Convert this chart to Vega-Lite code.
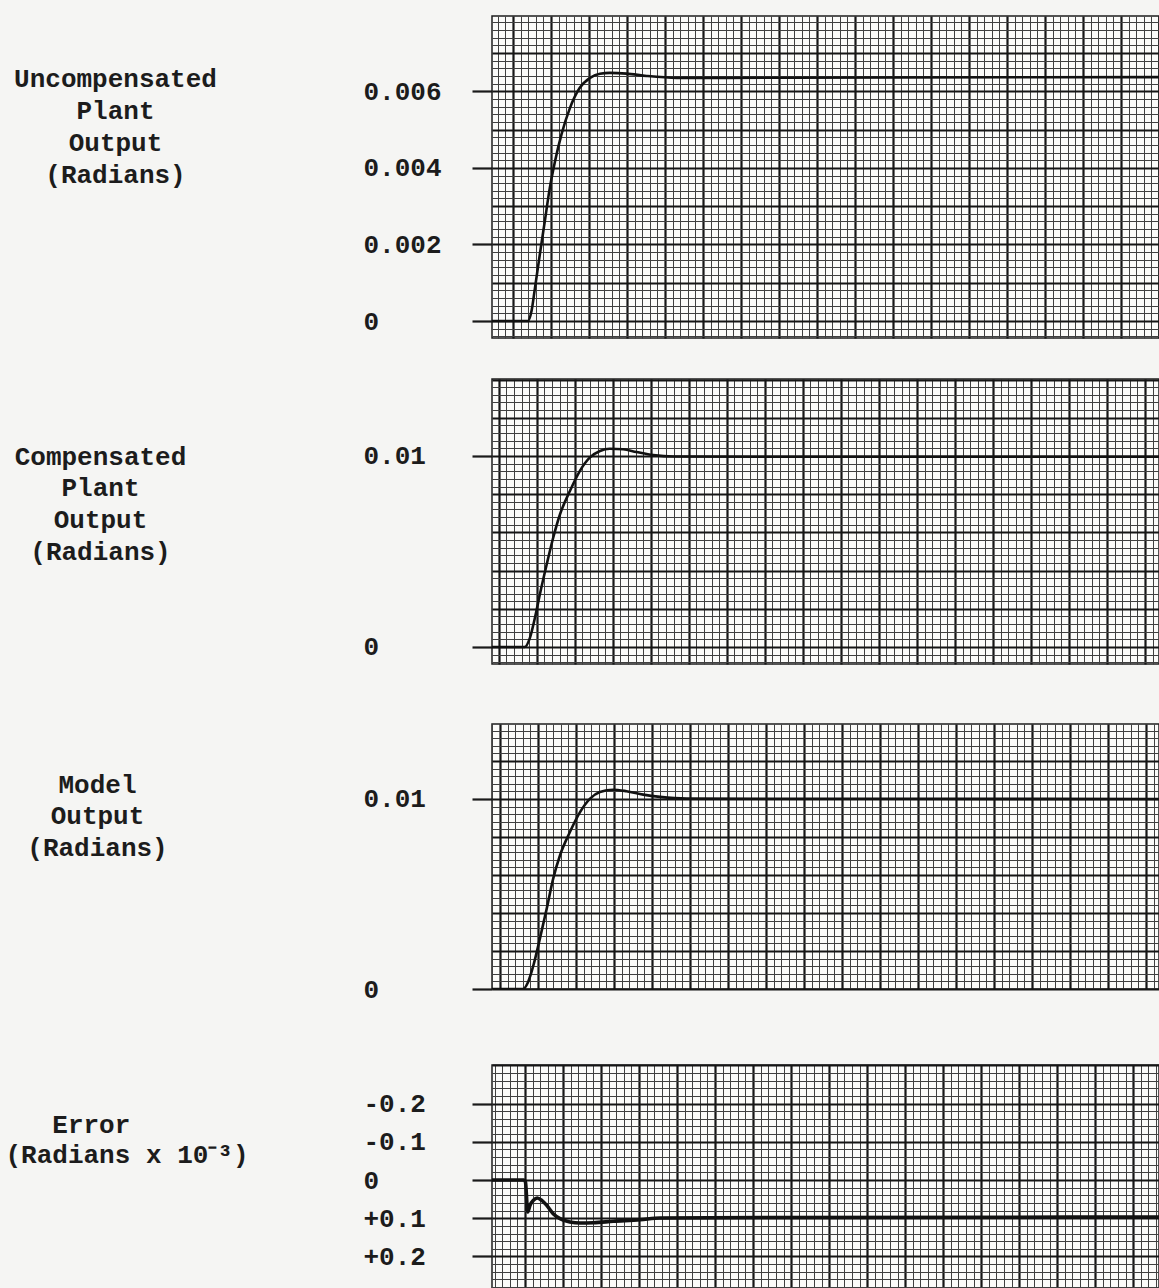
{
  "$schema": "https://vega.github.io/schema/vega-lite/v6.json",
  "background": "#f5f5f3",
  "padding": {"left": 4, "top": 15, "right": 0, "bottom": 0},
  "autosize": {"type": "pad"},
  "config": {
    "view": {"stroke": "#1e1e1e", "strokeWidth": 1.5, "fill": "#fbfbf9"},
    "font": "Liberation Mono",
    "axis": {
      "labelFont": "Liberation Mono", "labelFontWeight": "bold", "labelColor": "#1c1c1c",
      "titleFont": "Liberation Mono", "titleFontSize": 26, "titleFontWeight": "bold", "titleColor": "#1c1c1c",
      "gridColor": "#404040", "gridOpacity": 1
    }
  },
  "datasets": {
    "uncompensated": [
      {"t": -0.55, "v": 0}, {"t": 0.395, "v": 0}, {"t": 0.49, "v": 0.00026}, {"t": 0.58, "v": 0.00086},
      {"t": 0.71, "v": 0.00175}, {"t": 0.84, "v": 0.00261}, {"t": 0.97, "v": 0.00347}, {"t": 1.11, "v": 0.00418},
      {"t": 1.28, "v": 0.00488}, {"t": 1.5, "v": 0.00556}, {"t": 1.76, "v": 0.00609}, {"t": 2.03, "v": 0.00635},
      {"t": 2.29, "v": 0.00646}, {"t": 2.55, "v": 0.00648}, {"t": 2.99, "v": 0.00646}, {"t": 3.52, "v": 0.0064},
      {"t": 4.31, "v": 0.00635}, {"t": 5.62, "v": 0.00635}, {"t": 10.18, "v": 0.00636}, {"t": 17.0, "v": 0.00637}
    ],
    "compensated": [
      {"t": -1.18, "v": 0}, {"t": -0.32, "v": 0}, {"t": -0.18, "v": 0.00049}, {"t": -0.05, "v": 0.00153},
      {"t": 0.08, "v": 0.00276}, {"t": 0.26, "v": 0.00433}, {"t": 0.43, "v": 0.00572}, {"t": 0.61, "v": 0.00695},
      {"t": 0.87, "v": 0.00817}, {"t": 1.13, "v": 0.00921}, {"t": 1.39, "v": 0.00991}, {"t": 1.66, "v": 0.01026},
      {"t": 1.92, "v": 0.01038}, {"t": 2.27, "v": 0.01035}, {"t": 2.62, "v": 0.01021}, {"t": 3.06, "v": 0.01005},
      {"t": 3.59, "v": 0.00997}, {"t": 5.87, "v": 0.00996}, {"t": 16.37, "v": 0.00996}
    ],
    "model": [
      {"t": -1.21, "v": 0}, {"t": -0.39, "v": 0}, {"t": -0.26, "v": 0.00037}, {"t": -0.12, "v": 0.00125},
      {"t": 0.05, "v": 0.00265}, {"t": 0.23, "v": 0.00423}, {"t": 0.4, "v": 0.00581}, {"t": 0.58, "v": 0.00704},
      {"t": 0.84, "v": 0.00826}, {"t": 1.11, "v": 0.00932}, {"t": 1.37, "v": 0.01002}, {"t": 1.63, "v": 0.01037},
      {"t": 1.98, "v": 0.01049}, {"t": 2.33, "v": 0.01041}, {"t": 2.77, "v": 0.01023}, {"t": 3.21, "v": 0.01011},
      {"t": 3.91, "v": 0.01002}, {"t": 9.53, "v": 0.01001}, {"t": 16.34, "v": 0.01}
    ],
    "error": [
      {"t": -0.87, "v": 0}, {"t": -0.03, "v": 0}, {"t": 0.01, "v": 0.005}, {"t": 0.07, "v": 0.0837},
      {"t": 0.13, "v": 0.0662}, {"t": 0.22, "v": 0.0532}, {"t": 0.32, "v": 0.0471}, {"t": 0.44, "v": 0.0532},
      {"t": 0.57, "v": 0.0662}, {"t": 0.74, "v": 0.088}, {"t": 0.92, "v": 0.1011}, {"t": 1.18, "v": 0.1098},
      {"t": 1.45, "v": 0.1124}, {"t": 1.8, "v": 0.1116}, {"t": 2.32, "v": 0.108}, {"t": 3.03, "v": 0.1038},
      {"t": 3.55, "v": 0.0993}, {"t": 6.18, "v": 0.098}, {"t": 16.68, "v": 0.097}
    ]
  },
  "bounds": "full",
  "spacing": 58,
  "vconcat": [
    {
      "bounds": "flush",
      "spacing": 41,
      "vconcat": [
        {
          "width": 667, "height": 322,
          "data": {"name": "uncompensated"},
          "mark": {"type": "line", "interpolate": "monotone", "color": "#111111", "strokeWidth": 2.6, "clip": true},
          "encoding": {
            "x": {"field": "t", "type": "quantitative", "scale": {"domain": [-0.55, 17.0], "nice": false, "zero": false},
              "axis": {"title": null, "labels": false, "ticks": false, "domain": false, "grid": true, "tickCount": 88,
                "gridWidth": {"condition": {"test": "abs(datum.value - round(datum.value)) < 0.01", "value": 2.2}, "value": 1},
                "gridColor": {"condition": {"test": "abs(datum.value - round(datum.value)) < 0.01", "value": "#151515"}, "value": "#404040"}}},
            "y": {"field": "v", "type": "quantitative", "scale": {"domain": [-0.000444, 0.007966], "nice": false, "zero": false},
              "axis": {
                "values": [-0.0004,-0.0002,0,0.0002,0.0004,0.0006,0.0008,0.001,0.0012,0.0014,0.0016,0.0018,0.002,0.0022,0.0024,0.0026,0.0028,0.003,0.0032,0.0034,0.0036,0.0038,0.004,0.0042,0.0044,0.0046,0.0048,0.005,0.0052,0.0054,0.0056,0.0058,0.006,0.0062,0.0064,0.0066,0.0068,0.007,0.0072,0.0074,0.0076,0.0078],
                "grid": true, "domain": false,
                "gridWidth": {"condition": {"test": "abs(datum.value*1000 - round(datum.value*1000)) < 0.01", "value": 2.2}, "value": 1},
                "gridColor": {"condition": {"test": "abs(datum.value*1000 - round(datum.value*1000)) < 0.01", "value": "#151515"}, "value": "#404040"},
                "tickSize": 20, "tickWidth": 2.2, "tickColor": "#1a1a1a",
                "tickOpacity": {"condition": {"test": "abs(datum.value*500 - round(datum.value*500)) < 0.01 && datum.value > -0.000001 && datum.value < 0.0065", "value": 1}, "value": 0},
                "labelFontSize": {"condition": {"test": "abs(datum.value*500 - round(datum.value*500)) < 0.01 && datum.value > -0.000001 && datum.value < 0.0065", "value": 26}, "value": 0},
                "labelExpr": "abs(datum.value*500 - round(datum.value*500)) < 0.01 && datum.value > -0.000001 && datum.value < 0.0065 ? (abs(datum.value) < 0.000001 ? '0' : format(datum.value, '.3f')) : ''",
                "labelAlign": "left", "labelBaseline": "middle", "labelPadding": 109,
                "labelOverlap": false, "labelFlush": false, "labelBound": false,
                "title": ["Uncompensated", "Plant", "Output", "(Radians)"],
                "titleAngle": 0, "titleAlign": "center", "titleBaseline": "alphabetic",
                "titleX": -377, "titleY": 70, "titleLineHeight": 32
              }}
          }
        },
        {
          "width": 667, "height": 285,
          "data": {"name": "compensated"},
          "mark": {"type": "line", "interpolate": "monotone", "color": "#111111", "strokeWidth": 2.6, "clip": true},
          "encoding": {
            "x": {"field": "t", "type": "quantitative", "scale": {"domain": [-1.18, 16.37], "nice": false, "zero": false},
              "axis": {"title": null, "labels": false, "ticks": false, "domain": false, "grid": true, "tickCount": 88,
                "gridWidth": {"condition": {"test": "abs(datum.value - round(datum.value)) < 0.01", "value": 2.2}, "value": 1},
                "gridColor": {"condition": {"test": "abs(datum.value - round(datum.value)) < 0.01", "value": "#151515"}, "value": "#404040"}}},
            "y": {"field": "v", "type": "quantitative", "scale": {"domain": [-0.00089, 0.01403], "nice": false, "zero": false},
              "axis": {
                "values": [-0.0008,-0.0004,0,0.0004,0.0008,0.0012,0.0016,0.002,0.0024,0.0028,0.0032,0.0036,0.004,0.0044,0.0048,0.0052,0.0056,0.006,0.0064,0.0068,0.0072,0.0076,0.008,0.0084,0.0088,0.0092,0.0096,0.01,0.0104,0.0108,0.0112,0.0116,0.012,0.0124,0.0128,0.0132,0.0136,0.014],
                "grid": true, "domain": false,
                "gridWidth": {"condition": {"test": "abs(datum.value*500 - round(datum.value*500)) < 0.01", "value": 2.2}, "value": 1},
                "gridColor": {"condition": {"test": "abs(datum.value*500 - round(datum.value*500)) < 0.01", "value": "#151515"}, "value": "#404040"},
                "tickSize": 20, "tickWidth": 2.2, "tickColor": "#1a1a1a",
                "tickOpacity": {"condition": {"test": "abs(datum.value) < 0.000001 || abs(datum.value - 0.01) < 0.000001", "value": 1}, "value": 0},
                "labelFontSize": {"condition": {"test": "abs(datum.value) < 0.000001 || abs(datum.value - 0.01) < 0.000001", "value": 26}, "value": 0},
                "labelExpr": "abs(datum.value) < 0.000001 ? '0' : (abs(datum.value - 0.01) < 0.000001 ? '0.01' : '')",
                "labelAlign": "left", "labelBaseline": "middle", "labelPadding": 109,
                "labelOverlap": false, "labelFlush": false, "labelBound": false,
                "title": ["Compensated", "Plant", "Output", "(Radians)"],
                "titleAngle": 0, "titleAlign": "center", "titleBaseline": "alphabetic",
                "titleX": -392, "titleY": 85, "titleLineHeight": 31.7
              }}
          }
        }
      ]
    },
    {
      "bounds": "flush",
      "spacing": 76,
      "vconcat": [
        {
          "width": 667, "height": 265,
          "data": {"name": "model"},
          "mark": {"type": "line", "interpolate": "monotone", "color": "#111111", "strokeWidth": 2.6, "clip": true},
          "encoding": {
            "x": {"field": "t", "type": "quantitative", "scale": {"domain": [-1.21, 16.34], "nice": false, "zero": false},
              "axis": {"title": null, "labels": false, "ticks": false, "domain": false, "grid": true, "tickCount": 88,
                "gridWidth": {"condition": {"test": "abs(datum.value - round(datum.value)) < 0.01", "value": 2.2}, "value": 1},
                "gridColor": {"condition": {"test": "abs(datum.value - round(datum.value)) < 0.01", "value": "#151515"}, "value": "#404040"}}},
            "y": {"field": "v", "type": "quantitative", "scale": {"domain": [0, 0.013947], "nice": false, "zero": false},
              "axis": {
                "values": [0,0.0004,0.0008,0.0012,0.0016,0.002,0.0024,0.0028,0.0032,0.0036,0.004,0.0044,0.0048,0.0052,0.0056,0.006,0.0064,0.0068,0.0072,0.0076,0.008,0.0084,0.0088,0.0092,0.0096,0.01,0.0104,0.0108,0.0112,0.0116,0.012,0.0124,0.0128,0.0132,0.0136],
                "grid": true, "domain": false,
                "gridWidth": {"condition": {"test": "abs(datum.value*500 - round(datum.value*500)) < 0.01", "value": 2.2}, "value": 1},
                "gridColor": {"condition": {"test": "abs(datum.value*500 - round(datum.value*500)) < 0.01", "value": "#151515"}, "value": "#404040"},
                "tickSize": 20, "tickWidth": 2.2, "tickColor": "#1a1a1a",
                "tickOpacity": {"condition": {"test": "abs(datum.value) < 0.000001 || abs(datum.value - 0.01) < 0.000001", "value": 1}, "value": 0},
                "labelFontSize": {"condition": {"test": "abs(datum.value) < 0.000001 || abs(datum.value - 0.01) < 0.000001", "value": 26}, "value": 0},
                "labelExpr": "abs(datum.value) < 0.000001 ? '0' : (abs(datum.value - 0.01) < 0.000001 ? '0.01' : '')",
                "labelAlign": "left", "labelBaseline": "middle", "labelPadding": 109,
                "labelOverlap": false, "labelFlush": false, "labelBound": false,
                "title": ["Model", "Output", "(Radians)"],
                "titleAngle": 0, "titleAlign": "center", "titleBaseline": "alphabetic",
                "titleX": -395, "titleY": 68, "titleLineHeight": 31.5
              }}
          }
        },
        {
          "width": 667, "height": 225,
          "data": {"name": "error"},
          "mark": {"type": "line", "interpolate": "monotone", "color": "#111111", "strokeWidth": 3.6, "clip": true},
          "encoding": {
            "x": {"field": "t", "type": "quantitative", "scale": {"domain": [-0.87, 16.68], "nice": false, "zero": false},
              "axis": {"title": null, "labels": false, "ticks": false, "domain": false, "grid": true, "tickCount": 88,
                "gridWidth": {"condition": {"test": "abs(datum.value - round(datum.value)) < 0.01", "value": 2.2}, "value": 1},
                "gridColor": {"condition": {"test": "abs(datum.value - round(datum.value)) < 0.01", "value": "#151515"}, "value": "#404040"}}},
            "y": {"field": "v", "type": "quantitative", "scale": {"domain": [-0.3007, 0.2876], "nice": false, "zero": false, "reverse": true},
              "axis": {
                "values": [-0.3,-0.28,-0.26,-0.24,-0.22,-0.2,-0.18,-0.16,-0.14,-0.12,-0.1,-0.08,-0.06,-0.04,-0.02,0,0.02,0.04,0.06,0.08,0.1,0.12,0.14,0.16,0.18,0.2,0.22,0.24,0.26,0.28],
                "grid": true, "domain": false,
                "gridWidth": {"condition": {"test": "abs(datum.value*10 - round(datum.value*10)) < 0.01", "value": 2.2}, "value": 1},
                "gridColor": {"condition": {"test": "abs(datum.value*10 - round(datum.value*10)) < 0.01", "value": "#151515"}, "value": "#404040"},
                "tickSize": 20, "tickWidth": 2.2, "tickColor": "#1a1a1a",
                "tickOpacity": {"condition": {"test": "abs(datum.value*10 - round(datum.value*10)) < 0.01 && abs(datum.value) < 0.25", "value": 1}, "value": 0},
                "labelFontSize": {"condition": {"test": "abs(datum.value*10 - round(datum.value*10)) < 0.01 && abs(datum.value) < 0.25", "value": 26}, "value": 0},
                "labelExpr": "abs(datum.value*10 - round(datum.value*10)) < 0.01 && abs(datum.value) < 0.25 ? (abs(datum.value) < 0.000001 ? '0' : (datum.value < 0 ? '-' : '+') + format(abs(datum.value), '.1f')) : ''",
                "labelAlign": "left", "labelBaseline": "middle", "labelPadding": 109,
                "labelOverlap": false, "labelFlush": false, "labelBound": false,
                "title": ["\u200b\u00a0\u00a0\u00a0Error", "(Radians x 10\u207b\u00b3)"],
                "titleAngle": 0, "titleAlign": "left", "titleBaseline": "alphabetic",
                "titleX": -487, "titleY": 67, "titleLineHeight": 30
              }}
          }
        }
      ]
    }
  ]
}
